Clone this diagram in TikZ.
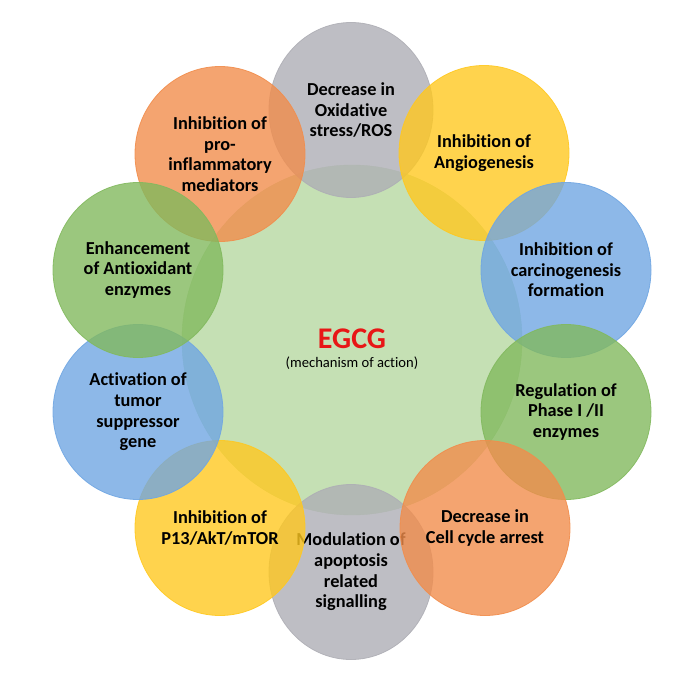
\documentclass[tikz,border=0pt]{standalone}
\usepackage{fontspec}
\setmainfont{Carlito}[Ligatures=NoCommon]
\usepackage{tikz}
\usetikzlibrary{shapes.geometric}
\definecolor{egcgRed}{RGB}{232,22,22}
\definecolor{hubGreen}{RGB}{182,216,161}
\definecolor{ringGray}{RGB}{174,174,181}
\definecolor{ringOrange}{RGB}{241,141,76}
\definecolor{ringYellow}{RGB}{255,200,32}
\definecolor{ringBlue}{RGB}{112,166,226}
\definecolor{ringGreen}{RGB}{130,185,94}
\tikzset{ringnode/.style={shape=ellipse,inner sep=0pt,minimum width=170pt,minimum height=175pt,
  fill opacity=.8,draw opacity=.9,text opacity=1,line width=.8pt,align=center,
  font=\fontsize{18.3}{20.6}\selectfont\bfseries}}
\tikzset{hubnode/.style={shape=ellipse,inner sep=0pt,minimum width=340pt,minimum height=350pt,
  fill=hubGreen,draw=hubGreen,fill opacity=.8,draw opacity=.9}}

\begin{document}
\begin{tikzpicture}[x=1pt,y=-1pt]
	\useasboundingbox (0,0) rectangle (700,700);
	\node[hubnode] (hub) at (352,340) {};
	\node[font=\fontsize{30}{32}\selectfont\bfseries,text=egcgRed] (egcg) at (352,339) {EGCG};
	\node[font=\fontsize{14.6}{16}\selectfont] (moa) at (352,363) {(mechanism of action)};
	%
	\node[ringnode,fill=ringGray,draw=ringGray,minimum width=164pt] (ros) at (351,110) {Decrease in\\Oxidative\\stress/ROS};
	\node[ringnode,fill=ringGray,draw=ringGray,minimum width=164pt] (apop) at (351,572) {Modulation of\\apoptosis\\related\\signalling};
	\node[ringnode,fill=ringOrange,draw=ringOrange] (infl) at (220,154) {Inhibition of\\pro-\\inflammatory\\mediators};
	\node[ringnode,fill=ringYellow,draw=ringYellow] (angio) at (484,153) {Inhibition of\\Angiogenesis};
	\node[ringnode,fill=ringBlue,draw=ringBlue] (carc) at (566,270) {Inhibition of\\carcinogenesis\\formation};
	\node[ringnode,fill=ringGreen,draw=ringGreen] (phase) at (566,412) {Regulation of\\Phase I /II\\enzymes};
	\node[ringnode,fill=ringOrange,draw=ringOrange] (cycle) at (485,528) {Decrease in\\Cell cycle arrest};
	\node[ringnode,fill=ringYellow,draw=ringYellow] (akt) at (220,528) {Inhibition of\\P13/AkT/mTOR};
	\node[ringnode,fill=ringBlue,draw=ringBlue] (tumor) at (138,412) {Activation of\\tumor\\suppressor\\gene};
	\node[ringnode,fill=ringGreen,draw=ringGreen] (antiox) at (138,270) {Enhancement\\of Antioxidant\\enzymes};
\end{tikzpicture}
\end{document}
